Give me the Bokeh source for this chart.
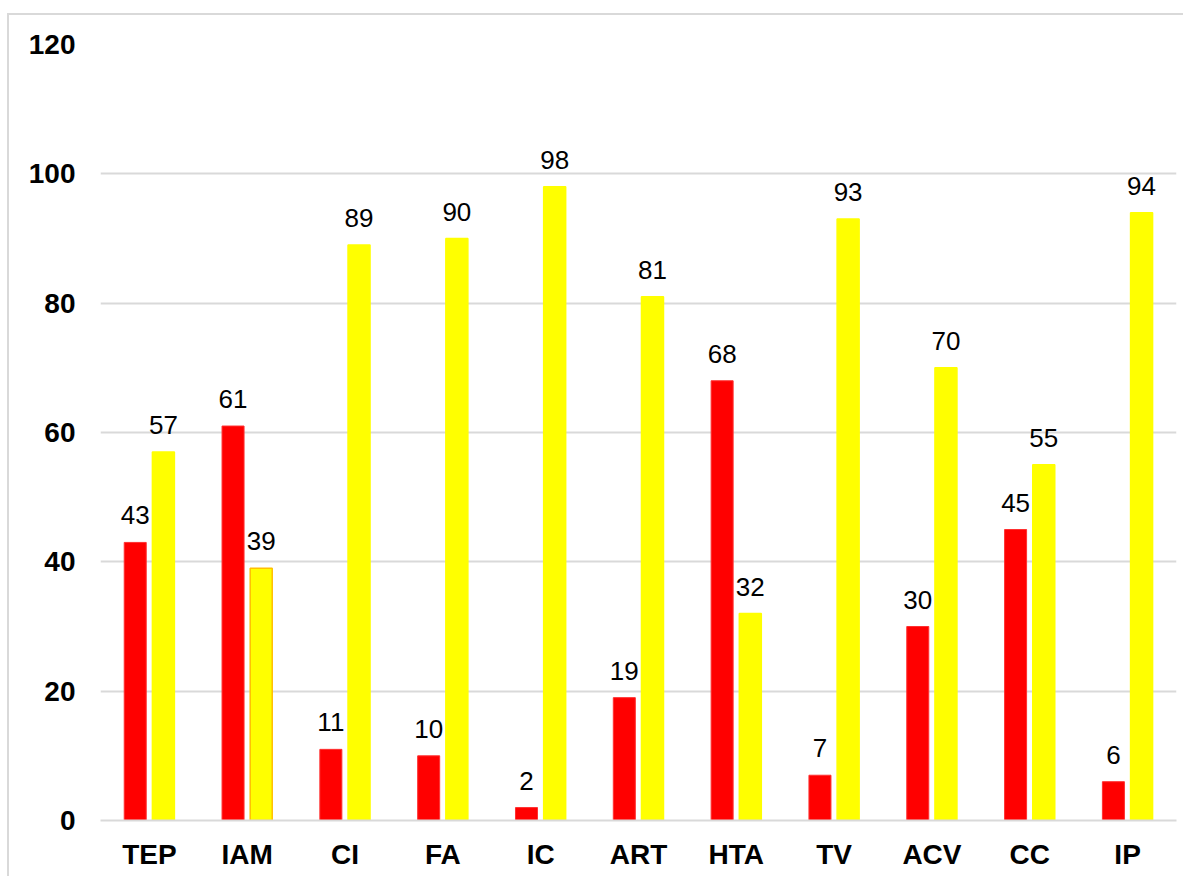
from bokeh.plotting import figure
from bokeh.models import ColumnDataSource, FactorRange, LabelSet, FixedTicker
from bokeh.transform import dodge
from bokeh.core.properties import value
from bokeh.embed import file_html
from bokeh.resources import INLINE

categories = ["TEP", "IAM", "CI", "FA", "IC", "ART", "HTA", "TV", "ACV", "CC", "IP"]
red_values = [43, 61, 11, 10, 2, 19, 68, 7, 30, 45, 6]
yellow_values = [57, 39, 89, 90, 98, 81, 32, 93, 70, 55, 94]
y_ticks = [0, 20, 40, 60, 80, 100, 120]

yellow_lines = ["#FFC000" if c == "IAM" else "#FFFF00" for c in categories]

src = ColumnDataSource(dict(cat=categories, red=red_values, yellow=yellow_values,
                            ylc=yellow_lines,
                            rl=[str(v) for v in red_values],
                            yl=[str(v) for v in yellow_values]))

p = figure(x_range=FactorRange(*categories, range_padding=0), y_range=(0, 120),
           width=1176, height=863, output_backend="svg", toolbar_location=None,
           min_border_left=91, min_border_top=29, min_border_right=9, min_border_bottom=58)
p.styles = {"border-top": "2px solid #d9d9d9", "border-left": "2px solid #d9d9d9",
            "margin-top": "13px", "margin-left": "7px"}
p.outline_line_color = None

p.vbar(x=dodge("cat", -0.145, range=p.x_range), top="red", width=0.225, source=src,
       fill_color="#FF0000", line_color="#FF3030", line_width=1)
p.vbar(x=dodge("cat", 0.143, range=p.x_range), top="yellow", width=0.225, source=src,
       fill_color="#FFFF00", line_color="ylc", line_width=1.5)

for field, lab, off in [("red", "rl", -0.145), ("yellow", "yl", 0.143)]:
    ls = LabelSet(x=dodge("cat", off, range=p.x_range), y=field, text=lab, source=src,
                  text_align="center", text_baseline="alphabetic", y_offset=18,
                  text_font=value("Liberation Sans"), text_font_size=value("26px"),
                  text_color="#000000")
    p.add_layout(ls)

p.xgrid.grid_line_color = None
p.ygrid.grid_line_color = "#d9d9d9"
p.ygrid.grid_line_width = 2
p.yaxis.ticker = FixedTicker(ticks=y_ticks)
p.yaxis.axis_line_color = None
p.yaxis.major_tick_line_color = None
p.yaxis.minor_tick_line_color = None
p.yaxis.major_label_standoff = 19
p.xaxis.axis_line_color = "#d9d9d9"
p.xaxis.axis_line_width = 2
p.xaxis.major_tick_line_color = None
p.xaxis.major_label_standoff = 12
for ax in (p.xaxis, p.yaxis):
    ax.major_label_text_font = "Liberation Sans"
    ax.major_label_text_font_size = "28px"
    ax.major_label_text_font_style = "bold"
    ax.major_label_text_color = "#000000"

open("out.html", "w").write(file_html(p, INLINE))
